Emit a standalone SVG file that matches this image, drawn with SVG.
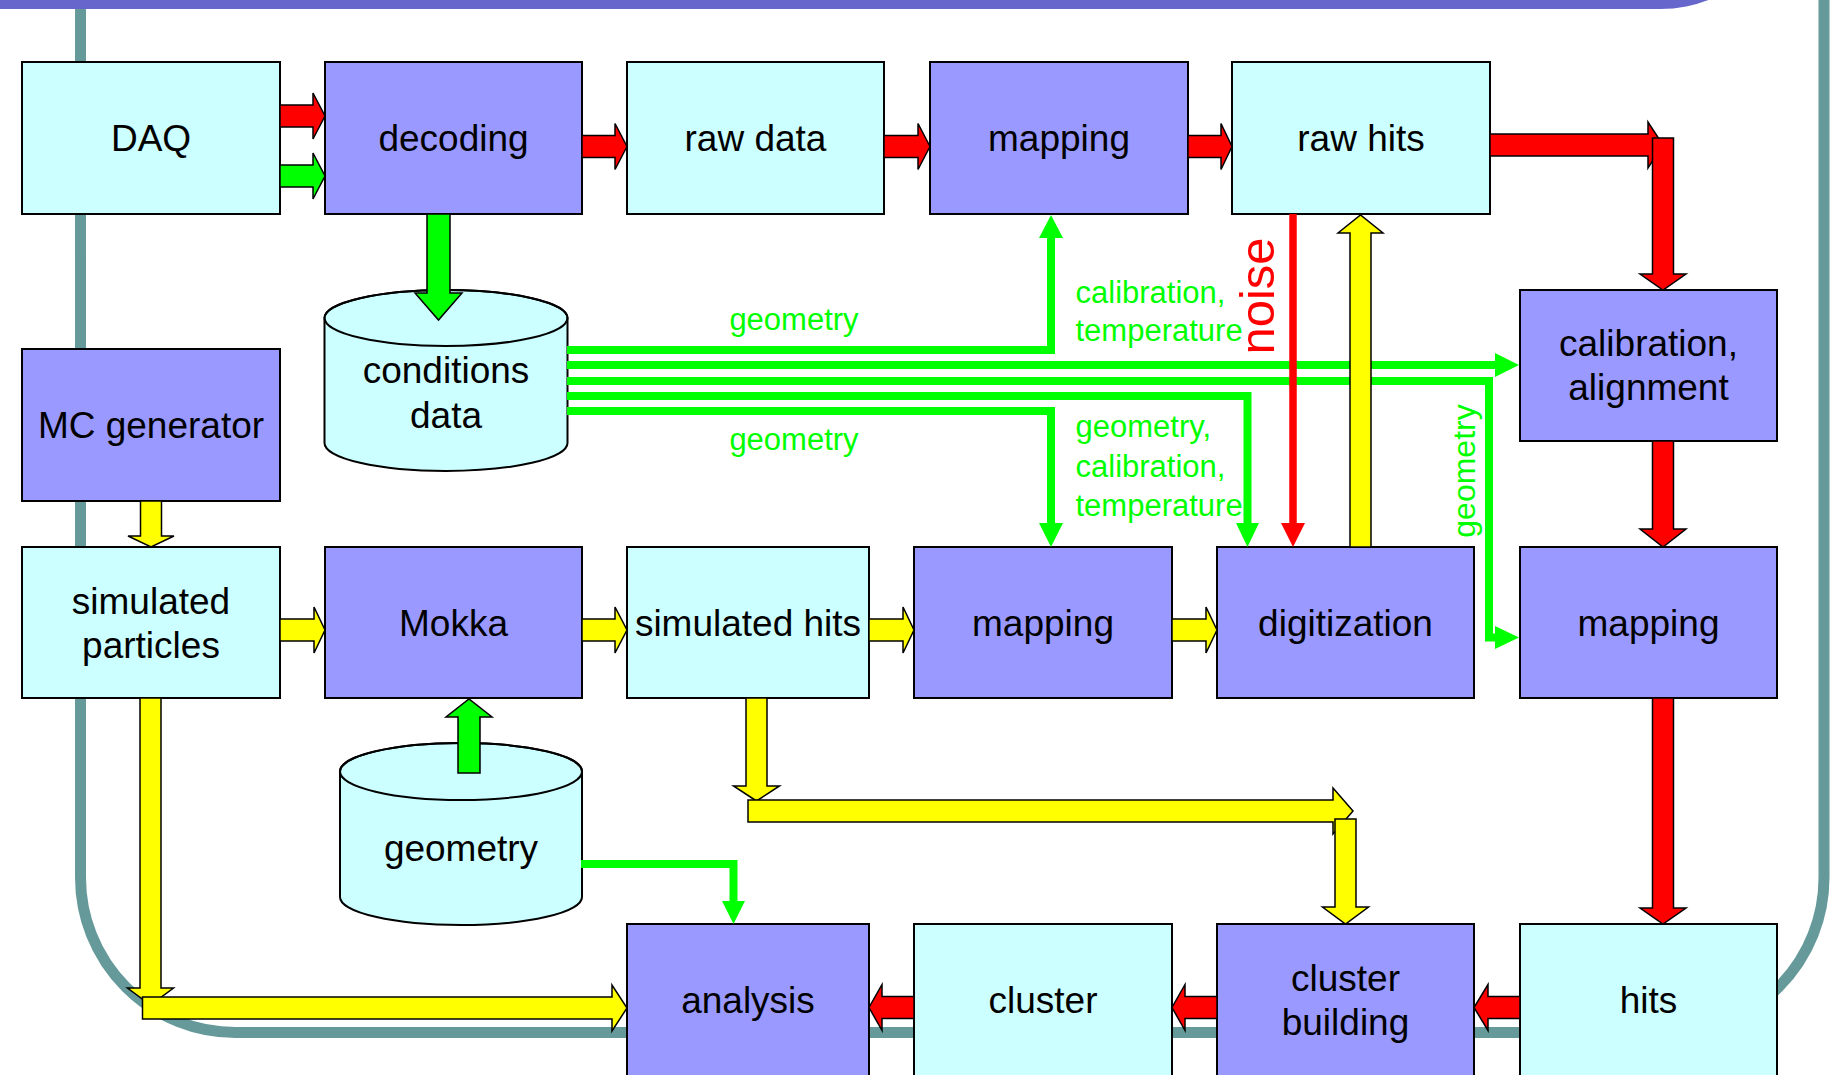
<svg xmlns="http://www.w3.org/2000/svg" width="1832" height="1075" viewBox="0 0 1832 1075">
  <style>
    .data { fill: #ccffff; stroke: #000; stroke-width: 2; }
    .proc { fill: #9999ff; stroke: #000; stroke-width: 2; }
    .lbl { font-family: "Liberation Sans", Arial, sans-serif; font-size: 37px; fill: #000; text-anchor: middle; }
    .glbl { font-family: "Liberation Sans", Arial, sans-serif; font-size: 31px; fill: #00ff00; }
    .red { fill: #ff0000; stroke: #000; stroke-width: 1.5; stroke-linejoin: miter; }
    .yel { fill: #ffff00; stroke: #000; stroke-width: 1.5; stroke-linejoin: miter; }
    .grn { fill: #00ff00; stroke: #000; stroke-width: 1.5; stroke-linejoin: miter; }
    .gline { fill: none; stroke: #00ff00; stroke-width: 8; stroke-linejoin: miter; }
    .ghead { fill: #00ff00; }
  </style>

  <!-- background frame and title band -->
  <rect x="0" y="0" width="1832" height="1075" fill="#ffffff"/>
  <rect x="80.5" y="-300" width="1743.5" height="1332.5" rx="155" ry="155" fill="none" stroke="#669999" stroke-width="11"/>
  <rect x="-200" y="-391" width="1995" height="400" rx="135" ry="135" fill="#6666cc"/>

  <!-- nodes -->
  <g id="daq"><rect class="data" x="22" y="62" width="258" height="152"/><text class="lbl" x="151" y="151">DAQ</text></g>
  <g id="decoding"><rect class="proc" x="325" y="62" width="257" height="152"/><text class="lbl" x="453.5" y="151">decoding</text></g>
  <g id="raw-data"><rect class="data" x="627" y="62" width="257" height="152"/><text class="lbl" x="755.5" y="151">raw data</text></g>
  <g id="mapping-raw"><rect class="proc" x="930" y="62" width="258" height="152"/><text class="lbl" x="1059" y="151">mapping</text></g>
  <g id="raw-hits"><rect class="data" x="1232" y="62" width="258" height="152"/><text class="lbl" x="1361" y="151">raw hits</text></g>

  <g id="mc-generator"><rect class="proc" x="22" y="349" width="258" height="152"/><text class="lbl" x="151" y="438">MC generator</text></g>
  <g id="calibration-alignment"><rect class="proc" x="1520" y="290" width="257" height="151"/><text class="lbl" x="1648.5" y="356">calibration,</text><text class="lbl" x="1648.5" y="400">alignment</text></g>

  <g id="conditions-data">
    <path class="data" d="M324.5,318 A121.5,28 0 0 1 567.5,318 L567.5,443 A121.5,28 0 0 1 324.5,443 Z"/>
    <ellipse cx="446" cy="318" rx="121.5" ry="28" fill="none" stroke="#000" stroke-width="2"/>
    <text class="lbl" x="446" y="383">conditions</text><text class="lbl" x="446" y="427.5">data</text>
  </g>

  <g id="simulated-particles"><rect class="data" x="22" y="547" width="258" height="151"/><text class="lbl" x="151" y="613.5">simulated</text><text class="lbl" x="151" y="657.5">particles</text></g>
  <g id="mokka"><rect class="proc" x="325" y="547" width="257" height="151"/><text class="lbl" x="453.5" y="635.5">Mokka</text></g>
  <g id="simulated-hits"><rect class="data" x="627" y="547" width="242" height="151"/><text class="lbl" x="748" y="635.5">simulated hits</text></g>
  <g id="mapping-sim"><rect class="proc" x="914" y="547" width="258" height="151"/><text class="lbl" x="1043" y="635.5">mapping</text></g>
  <g id="digitization"><rect class="proc" x="1217" y="547" width="257" height="151"/><text class="lbl" x="1345.5" y="635.5">digitization</text></g>
  <g id="mapping-cal"><rect class="proc" x="1520" y="547" width="257" height="151"/><text class="lbl" x="1648.5" y="635.5">mapping</text></g>

  <g id="geometry-db">
    <path class="data" d="M340,771.5 A121,28.5 0 0 1 582,771.5 L582,897 A121,28 0 0 1 340,897 Z"/>
    <ellipse cx="461" cy="771.5" rx="121" ry="28.5" fill="none" stroke="#000" stroke-width="2"/>
    <text class="lbl" x="461" y="861">geometry</text>
  </g>

  <g id="analysis"><rect class="proc" x="627" y="924" width="242" height="160"/><text class="lbl" x="748" y="1013">analysis</text></g>
  <g id="cluster"><rect class="data" x="914" y="924" width="258" height="160"/><text class="lbl" x="1043" y="1013">cluster</text></g>
  <g id="cluster-building"><rect class="proc" x="1217" y="924" width="257" height="160"/><text class="lbl" x="1345.5" y="991">cluster</text><text class="lbl" x="1345.5" y="1035">building</text></g>
  <g id="hits"><rect class="data" x="1520" y="924" width="257" height="160"/><text class="lbl" x="1648.5" y="1013">hits</text></g>

  <!-- connectors -->
  <g id="connectors">
    <!-- conditions data fan-out -->
    <path class="gline" d="M567,350 H1051 V236"/>
    <polygon class="ghead" points="1039,238 1051,215 1063,238"/>
    <path class="gline" d="M567,365 H1497"/>
    <polygon class="ghead" points="1495,353 1519,365 1495,377"/>
    <path class="gline" d="M567,381 H1489 V637.5 H1497"/>
    <polygon class="ghead" points="1495,626 1519,637.5 1495,649"/>
    <path class="gline" d="M567,396 H1247.5 V525"/>
    <polygon class="ghead" points="1236,523 1247.5,547 1259,523"/>
    <path class="gline" d="M567,411 H1051 V525"/>
    <polygon class="ghead" points="1039,523 1051,547 1063,523"/>
    <!-- geometry to analysis -->
    <path class="gline" d="M581,864 H733.5 V903"/>
    <polygon class="ghead" points="722,901 733.5,924 745,901"/>
    <!-- noise -->
    <path d="M1293,214 V525" fill="none" stroke="#ff0000" stroke-width="7.5"/>
    <polygon fill="#ff0000" points="1281,523 1293,547 1305,523"/>

    <!-- real data chain -->
    <path class="red" d="M280,105 L313,105 L313,93 L325,116 L313,139 L313,127 L280,127 Z"/>
    <path class="grn" d="M280,165 L313,165 L313,153 L325,176 L313,199 L313,187 L280,187 Z"/>
    <path class="red" d="M582,135.5 L615,135.5 L615,123.5 L627,146.5 L615,169.5 L615,157.5 L582,157.5 Z"/>
    <path class="red" d="M884,135.5 L918,135.5 L918,123.5 L930,146.5 L918,169.5 L918,157.5 L884,157.5 Z"/>
    <path class="red" d="M1188,135.5 L1221,135.5 L1221,123.5 L1232,146.5 L1221,169.5 L1221,157.5 L1188,157.5 Z"/>
    <path class="red" d="M1490,134 L1648,134 L1648,122 L1663,145 L1648,168 L1648,156 L1490,156 Z"/>
    <path class="red" d="M1652.5,138 L1673.5,138 L1673.5,274 L1686,274 L1663,290 L1640,274 L1652.5,274 Z"/>
    <path class="red" d="M1652.5,441 L1673.5,441 L1673.5,529 L1686,529 L1663,547 L1640,529 L1652.5,529 Z"/>
    <path class="red" d="M1652.5,698 L1673.5,698 L1673.5,908 L1686,908 L1663,924 L1640,908 L1652.5,908 Z"/>
    <path class="red" d="M1520,996.5 L1488,996.5 L1488,984.5 L1474,1007.5 L1488,1030.5 L1488,1018.5 L1520,1018.5 Z"/>
    <path class="red" d="M1217,996.5 L1185,996.5 L1185,984.5 L1172,1007.5 L1185,1030.5 L1185,1018.5 L1217,1018.5 Z"/>
    <path class="red" d="M914,996.5 L882,996.5 L882,984.5 L869,1007.5 L882,1030.5 L882,1018.5 L914,1018.5 Z"/>

    <!-- database feeds -->
    <path class="grn" d="M427,214 L450,214 L450,293 L462,293 L438.5,320 L415,293 L427,293 Z"/>
    <path class="grn" d="M458,773 L458,717 L446,717 L469,699 L492,717 L480,717 L480,773 Z"/>

    <!-- simulation chain -->
    <path class="yel" d="M140.5,501 L161.5,501 L161.5,536 L174,536 L151,547 L128,536 L140.5,536 Z"/>
    <path class="yel" d="M280,619 L314,619 L314,607 L325,630 L314,653 L314,641 L280,641 Z"/>
    <path class="yel" d="M582,619 L615,619 L615,607 L627,630 L615,653 L615,641 L582,641 Z"/>
    <path class="yel" d="M869,619 L903,619 L903,607 L914,630 L903,653 L903,641 L869,641 Z"/>
    <path class="yel" d="M1172,619 L1206,619 L1206,607 L1217,630 L1206,653 L1206,641 L1172,641 Z"/>
    <path class="yel" d="M1350,547 L1350,233 L1338,233 L1360.5,215 L1383,233 L1371,233 L1371,547 Z"/>
    <path class="yel" d="M140,698 L161,698 L161,988 L173.5,988 L150.5,1005 L127.5,988 L140,988 Z"/>
    <path class="yel" d="M142.5,997 L612,997 L612,985 L627,1008 L612,1031 L612,1019 L142.5,1019 Z"/>
    <path class="yel" d="M746,698 L767,698 L767,786 L779.5,786 L756.5,801 L733.5,786 L746,786 Z"/>
    <path class="yel" d="M748,800 L1333,800 L1333,788 L1353,811 L1333,834 L1333,822 L748,822 Z"/>
    <path class="yel" d="M1335,819 L1356,819 L1356,907 L1368.5,907 L1345.5,924 L1322.5,907 L1335,907 Z"/>
  </g>

  <!-- connector labels -->
  <text class="glbl" x="794" y="330" text-anchor="middle">geometry</text>
  <text class="glbl" x="794" y="450" text-anchor="middle">geometry</text>
  <text class="glbl" x="1075.5" y="302.5">calibration,</text>
  <text class="glbl" x="1075.5" y="340.5">temperature</text>
  <text class="glbl" x="1075.5" y="437">geometry,</text>
  <text class="glbl" x="1075.5" y="476.5">calibration,</text>
  <text class="glbl" x="1075.5" y="516">temperature</text>
  <text class="glbl" transform="translate(1475,471) rotate(-90)" text-anchor="middle" style="font-size:32px">geometry</text>
  <text transform="translate(1273.5,296) rotate(-90)" text-anchor="middle" font-family="Liberation Sans, Arial, sans-serif" font-size="49" fill="#ff0000">noise</text>
</svg>
